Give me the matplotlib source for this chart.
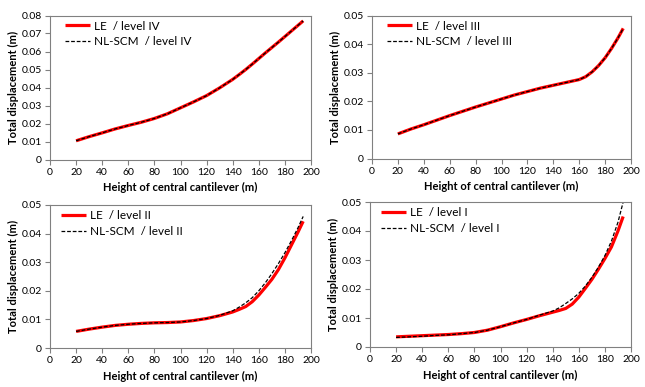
import matplotlib
matplotlib.use("Agg")
import matplotlib.pyplot as plt

plt.rcParams['font.family'] = ['Lato', 'DejaVu Sans']

x = [20, 30, 40, 50, 60, 70, 80, 90, 100, 110, 120, 130, 140, 145, 150, 155,
     160, 165, 170, 175, 180, 185, 190, 194]

le_iv = [0.0104, 0.0127, 0.0148, 0.0170, 0.0189, 0.0207, 0.0228, 0.0254, 0.0287, 0.0320,
         0.0355, 0.0398, 0.0445, 0.0472, 0.0500, 0.0530, 0.0561, 0.0592, 0.0622, 0.0652,
         0.0683, 0.0714, 0.0745, 0.0770]
nl_iv = le_iv

le_iii = [0.0086, 0.0103, 0.0118, 0.0134, 0.0150, 0.0165, 0.0180, 0.0194, 0.0208, 0.0222,
          0.0234, 0.0246, 0.0256, 0.0261, 0.0266, 0.0271, 0.0276, 0.0286, 0.0303, 0.0325,
          0.0352, 0.0385, 0.0422, 0.0455]
nl_iii = le_iii

le_ii = [0.0058, 0.0066, 0.0073, 0.0079, 0.0083, 0.0086, 0.0088, 0.0089, 0.0091, 0.0096,
         0.0103, 0.0113, 0.0126, 0.0135, 0.0145, 0.0162, 0.0185, 0.0212, 0.0240, 0.0274,
         0.0315, 0.0360, 0.0405, 0.0443]
nl_ii = [0.0058, 0.0066, 0.0073, 0.0079, 0.0083, 0.0086, 0.0088, 0.0089, 0.0091, 0.0096,
         0.0103, 0.0114, 0.0130, 0.0143, 0.0158, 0.0176, 0.0200, 0.0228, 0.0260, 0.0295,
         0.0333, 0.0375, 0.0420, 0.0460]

le_i = [0.0035, 0.0037, 0.0039, 0.0041, 0.0043, 0.0046, 0.0050, 0.0058, 0.0070, 0.0083,
        0.0095, 0.0108, 0.0120, 0.0126, 0.0133, 0.0148, 0.0172, 0.0202, 0.0233, 0.0268,
        0.0305, 0.0345, 0.0400, 0.0450]
nl_i = [0.0033, 0.0035, 0.0037, 0.0040, 0.0042, 0.0046, 0.0050, 0.0058, 0.0070, 0.0083,
        0.0095, 0.0110, 0.0124, 0.0135, 0.0150, 0.0166, 0.0185, 0.0210, 0.0240, 0.0275,
        0.0315, 0.0365, 0.0430, 0.0500]

panels = [
    ("IV", le_iv, nl_iv, 0.08, 0.01, [50, 311, 15.5, 159.5], 15),
    ("III", le_iii, nl_iii, 0.05, 0.01, [372, 631, 15.5, 158.5], 15),
    ("II", le_ii, nl_ii, 0.05, 0.01, [50, 311, 205, 348], 11),
    ("I", le_i, nl_i, 0.05, 0.01, [370, 631, 202, 347], 11),
]

W, H = 645, 387
fig = plt.figure(figsize=(6.45, 3.87), dpi=100)

def fmt(v):
    s = ("%.2f" % v).rstrip('0').rstrip('.')
    return s if s else "0"

for level, le, nl, ymax, step, (l, r, t, b), lx in panels:
    w, h = r - l, b - t
    ax = fig.add_axes([l / W, 1 - b / H, w / W, h / H])
    ax.plot(x, le, color='#ff0000', lw=2.3, label=f"LE  / level {level}",
            solid_capstyle='butt', solid_joinstyle='round')
    ax.plot(x, nl, color='black', lw=0.9, ls=(0, (3, 1.5)), label=f"NL-SCM  / level {level}")
    ax.set_xlim(0, 200)
    ax.set_ylim(0, ymax)
    ax.set_xticks(range(0, 201, 20))
    n = int(round(ymax / step))
    yt = [i * step for i in range(n + 1)]
    ax.set_yticks(yt)
    ax.set_yticklabels([fmt(v) for v in yt])
    ax.tick_params(labelsize=7.5, length=3.5, width=0.8, color='#808080', pad=2.5)
    for s in ax.spines.values():
        s.set_color('#808080')
        s.set_linewidth(0.8)
    ax.set_xlabel("Height of central cantilever (m)", fontsize=8, fontweight='bold', labelpad=4)
    ax.set_ylabel("Total displacement (m)", fontsize=8, fontweight='bold', labelpad=1.5)
    ax.legend(loc='upper left', bbox_to_anchor=(lx / w, 1 - 5 / h), frameon=False,
              fontsize=8.5, handlelength=2.1, borderaxespad=0, borderpad=0,
              labelspacing=0.4, handletextpad=0.35)

fig.savefig("out.png", dpi=100)
